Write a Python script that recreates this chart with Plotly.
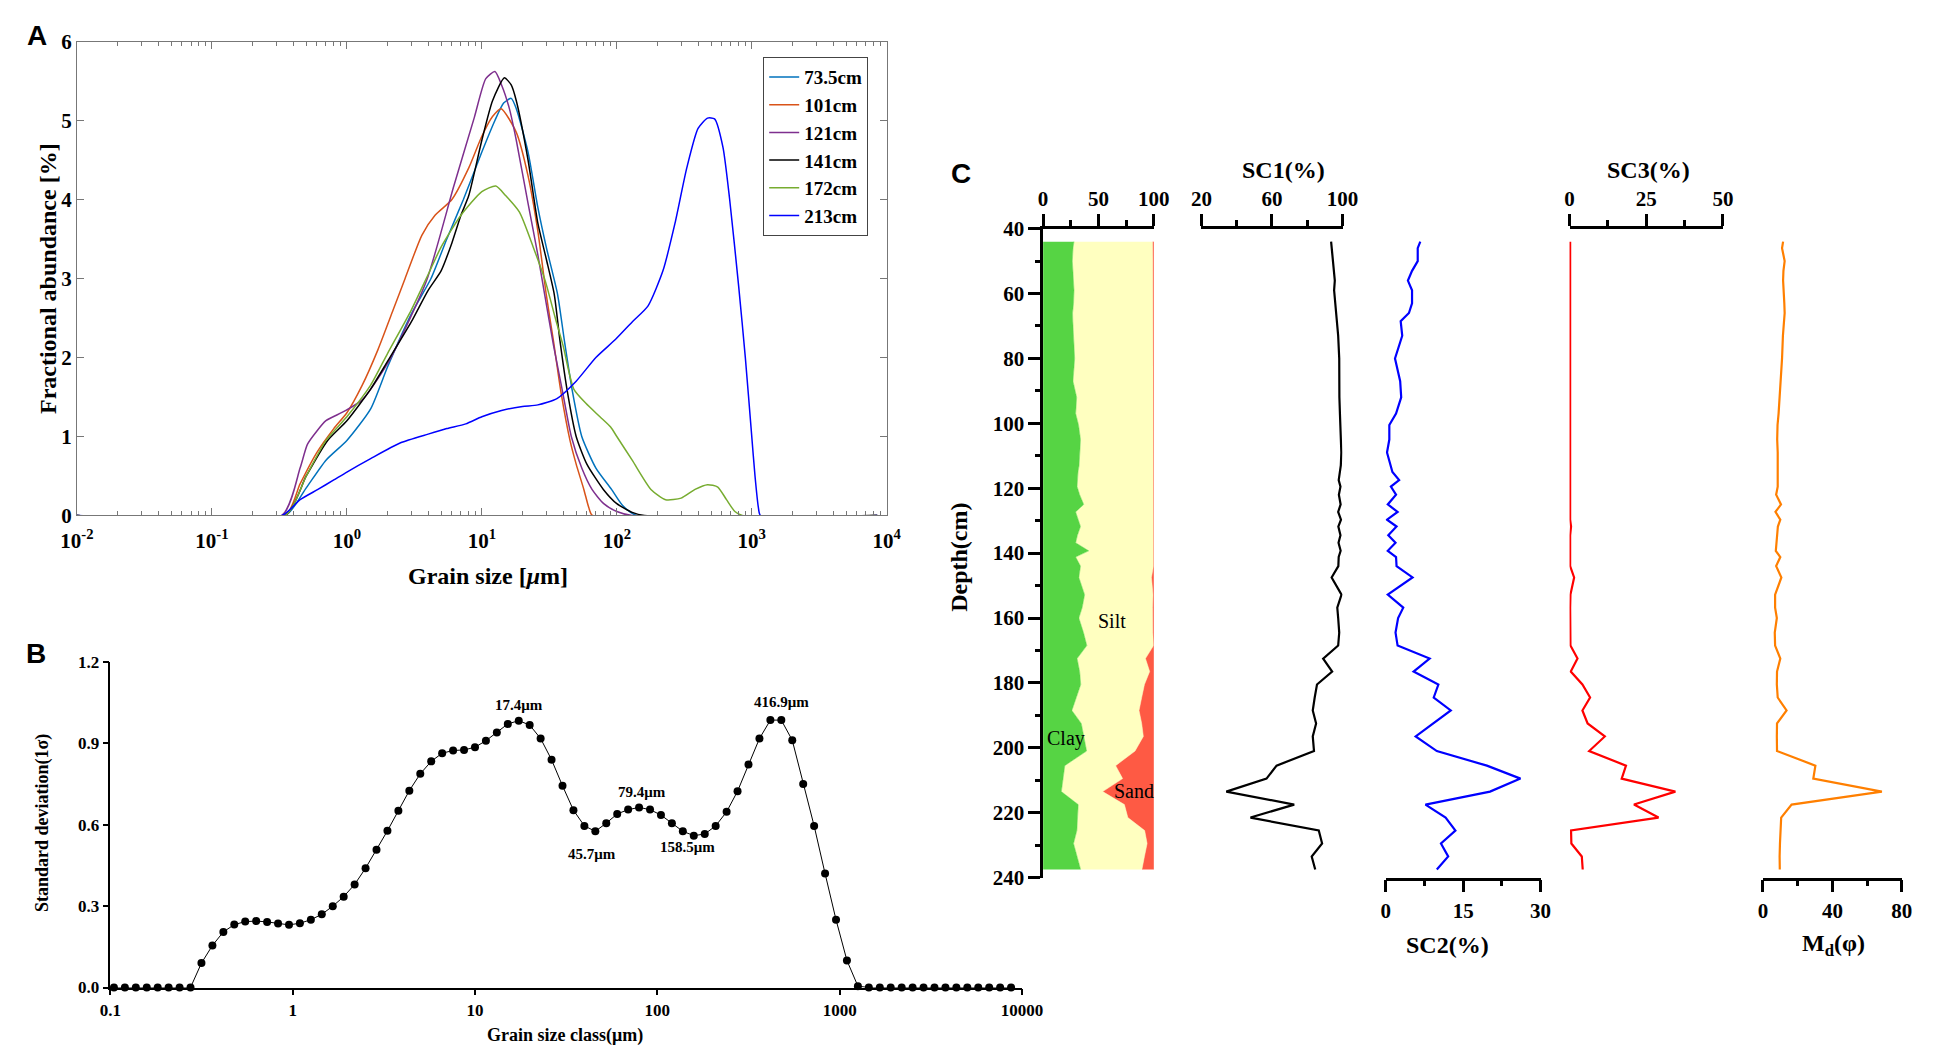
import plotly.graph_objects as go

W, H = 1933, 1057
SERIF = "Liberation Serif"
SANS = "Liberation Sans"


def fx(x):
    return x / W


def fy(y):
    return 1 - y / H


# ---------------- panel A: grain size distributions ----------------
size_735 = [0.01, 0.35, 0.5, 0.7, 1.0, 1.5, 2, 3, 4.2, 5.5, 7.3, 10, 12.5, 14.5, 16.5, 18, 22,
            26, 30, 36.4, 41, 46.9, 55, 70, 91.4, 110, 140, 8500]
frac_735 = [0, 0, 0.35, 0.7, 0.95, 1.35, 1.88, 2.55, 3.0, 3.5, 4.0, 4.6, 5.0, 5.22, 5.28, 5.15, 4.6,
            3.9, 3.4, 2.8, 2.2, 1.57, 1.0, 0.6, 0.33, 0.13, 0, 0]

size_101 = [0.01, 0.35, 0.45, 0.6, 0.8, 1.0, 1.3, 1.7, 2.2, 2.7, 3.6, 4.5, 6, 8, 10, 12, 13.9, 18,
            22, 26, 30, 34, 38.5, 45, 50, 57, 62, 66, 8500]
frac_101 = [0, 0, 0.4, 0.8, 1.1, 1.3, 1.65, 2.1, 2.6, 3.0, 3.55, 3.8, 4.0, 4.4, 4.8, 5.05, 5.15, 4.85,
            4.3, 3.6, 2.8, 2.2, 1.57, 0.95, 0.65, 0.33, 0.1, 0, 0]

size_121 = [0.01, 0.33, 0.45, 0.51, 0.6, 0.7, 0.96, 1.31, 2.09, 3.89, 6.2, 8.8, 10.7, 12.5, 14, 16,
            18, 22, 26, 29.2, 34, 39.6, 46, 55, 65.5, 80, 100, 130, 8500]
frac_121 = [0, 0, 0.6, 0.9, 1.07, 1.2, 1.32, 1.47, 1.98, 2.97, 4.17, 5.04, 5.53, 5.62, 5.45, 5.15,
            4.75, 3.95, 3.3, 2.8, 2.15, 1.57, 1.0, 0.6, 0.33, 0.15, 0.05, 0, 0]

size_141 = [0.01, 0.35, 0.5, 0.72, 1.0, 1.5, 2, 3, 4, 5, 6, 7, 8, 10, 12, 14.7, 16.5, 18, 22, 26,
            30, 34.4, 38, 43, 50, 60, 79.5, 100, 130, 160, 8500]
frac_141 = [0, 0, 0.5, 0.95, 1.2, 1.6, 1.95, 2.45, 2.85, 3.1, 3.45, 3.8, 4.05, 4.75, 5.25, 5.54, 5.45,
            5.25, 4.5, 3.7, 3.25, 2.8, 2.2, 1.57, 1.0, 0.65, 0.33, 0.15, 0.04, 0, 0]

size_172 = [0.01, 0.35, 0.5, 0.7, 1.0, 1.5, 2, 3, 4, 5, 7, 10, 12.7, 15, 19, 24, 29.5, 35, 40, 48,
            59, 75, 90, 100, 130, 179, 230, 300, 380, 470, 560, 650, 750, 850, 8500]
frac_172 = [0, 0, 0.5, 0.95, 1.25, 1.65, 2.05, 2.6, 3.05, 3.4, 3.8, 4.1, 4.17, 4.05, 3.84, 3.4, 2.97,
            2.5, 2.15, 1.6, 1.42, 1.25, 1.12, 1.0, 0.7, 0.33, 0.2, 0.22, 0.33, 0.39, 0.36, 0.2, 0.05,
            0, 0]

size_213 = [0.01, 0.33, 0.45, 0.61, 0.8, 1.0, 1.5, 2.5, 4, 5.5, 7.6, 10, 14, 20, 26, 36, 50, 70, 98,
            130, 170, 220, 270, 330, 400, 470, 530, 612, 686, 800, 896, 1000, 1057, 1120, 1160, 8500]
frac_213 = [0, 0, 0.2, 0.33, 0.45, 0.55, 0.72, 0.92, 1.03, 1.1, 1.16, 1.25, 1.33, 1.38, 1.40, 1.48,
            1.7, 2.0, 2.23, 2.45, 2.65, 3.1, 3.7, 4.4, 4.9, 5.03, 5.02, 4.66, 4.0, 2.9, 2.0, 1.0,
            0.5, 0.1, 0, 0]

samples_A = [
    ("73.5cm", size_735, frac_735, "#0072BD"),
    ("101cm", size_101, frac_101, "#D95319"),
    ("121cm", size_121, frac_121, "#7E2F8E"),
    ("141cm", size_141, frac_141, "#000000"),
    ("172cm", size_172, frac_172, "#77AC30"),
    ("213cm", size_213, frac_213, "#0000FF"),
]

# ---------------- panel B: standard deviation by grain size class ----------------
size_class = [0.1047, 0.1202, 0.1380, 0.1585, 0.1820, 0.2089, 0.2399, 0.2754, 0.3162, 0.3631,
              0.4169, 0.4786, 0.5495, 0.6310, 0.7244, 0.8318, 0.9550, 1.096, 1.259, 1.445, 1.660,
              1.905, 2.188, 2.512, 2.884, 3.311, 3.802, 4.365, 5.012, 5.754, 6.607, 7.586, 8.710,
              10.00, 11.48, 13.18, 15.14, 17.38, 19.95, 22.91, 26.30, 30.20, 34.67, 39.81, 45.71,
              52.48, 60.26, 69.18, 79.43, 91.20, 104.7, 120.2, 138.0, 158.5, 182.0, 208.9, 239.9,
              275.4, 316.2, 363.1, 416.9, 478.6, 549.5, 631.0, 724.4, 831.8, 955.0, 1096, 1259,
              1445, 1660, 1905, 2188, 2512, 2884, 3311, 3802, 4365, 5012, 5754, 6607, 7586, 8710]
std_dev = [0, 0, 0, 0, 0, 0, 0, 0, 0.09, 0.155, 0.205, 0.232, 0.243, 0.245, 0.242, 0.236, 0.231,
           0.237, 0.25, 0.27, 0.30, 0.335, 0.38, 0.44, 0.508, 0.578, 0.652, 0.726, 0.788, 0.834,
           0.864, 0.874, 0.876, 0.886, 0.91, 0.94, 0.972, 0.984, 0.968, 0.918, 0.84, 0.744, 0.654,
           0.596, 0.576, 0.606, 0.64, 0.656, 0.664, 0.656, 0.636, 0.606, 0.576, 0.56, 0.566, 0.596,
           0.648, 0.724, 0.822, 0.918, 0.986, 0.986, 0.912, 0.75, 0.596, 0.42, 0.25, 0.10, 0.005,
           0, 0, 0, 0, 0, 0, 0, 0, 0, 0, 0, 0, 0, 0]
# (label, x in log10, y) for the annotated modes
peak_labels = [("17.4μm", 1.24, 1.04), ("79.4μm", 1.917, 0.72), ("416.9μm", 2.68, 1.054),
               ("45.7μm", 1.644, 0.492), ("158.5μm", 2.164, 0.52)]

# ---------------- panel C: down-core profiles ----------------
depth = [44, 46, 50, 53, 56, 59, 63, 66, 68.5, 73, 80, 87, 92, 97, 100.5, 105, 109, 113, 115, 117.5,
         119.5, 122, 125, 127.3, 129.7, 131.8, 134.5, 136.8, 139.3, 141.2, 144, 147.5, 152.8,
         156.8, 160, 164.5, 168.5, 172.5, 176.5, 180.5, 184.5, 188.5, 192.5, 196.5, 201, 205.5,
         209.5, 213.5, 217.5, 221.5, 225.5, 229.5, 233.5, 237.5]
clay = [27.9, 27.0, 26.4, 27.0, 27.5, 27.9, 27.5, 26.6, 26.8, 27.5, 28.5, 27.0, 30.3, 29.4, 32.0,
        33.8, 33.2, 32.5, 31.5, 30.7, 30.7, 33.0, 36.7, 29.4, 32.0, 33.8, 31.0, 29.4, 41.2, 29.4,
        33.8, 32.3, 37.5, 35.3, 32.3, 36.5, 39.5, 30.7, 33.0, 34.0, 30.0, 26.0, 34.5, 37.0, 39.3,
        19.6, 18.0, 16.5, 31.7, 31.2, 30.5, 27.5, 30.5, 33.9]
sand = [1.2, 1.0, 1.0, 1.0, 1.0, 1.0, 1.0, 1.0, 1.0, 1.0, 1.0, 1.0, 1.0, 1.0, 0.4, 0.4, 0.4, 0.4,
        0.4, 0.4, 0.4, 0.4, 0.4, 0.4, 0.4, 0.4, 0.4, 0.4, 0.4, 0.4, 0.4, 2.2, 0.8, 1.2, 1.3, 1.0,
        0.3, 7.6, 3.8, 8.5, 11.0, 13.4, 11.0, 9.5, 17.0, 34.5, 28.2, 46.2, 26.6, 23.5, 8.3, 6.1,
        8.5, 10.8]
sc1 = [93.5, 93.8, 94.3, 95.0, 95.6, 95.2, 95.9, 96.5, 96.9, 97.5, 98.1, 98.0, 98.2, 98.5, 98.7,
       98.9, 99.3, 99.0, 98.6, 97.8, 98.8, 97.9, 98.9, 97.5, 99.1, 97.6, 98.8, 97.7, 98.9, 97.8,
       97.6, 93.8, 99.4, 97.0, 97.5, 98.1, 97.5, 89.0, 94.1, 85.5, 84.2, 83.1, 85.0, 83.1, 83.8,
       62.6, 56.9, 34.1, 72.6, 47.8, 86.5, 88.4, 82.5, 84.5]
sc2 = [6.7, 6.2, 6.2, 5.1, 4.3, 5.1, 5.1, 4.5, 2.9, 3.2, 1.8, 2.8, 3.0, 2.0, 0.7, 0.7, 0.25, 1.0,
       1.3, 2.6, 1.0, 2.0, 0.4, 2.3, 0.25, 2.1, 0.5, 1.9, 0.4, 2.0, 2.1, 5.2, 0.4, 3.4, 2.4, 1.9,
       2.3, 8.5, 5.4, 10.2, 9.3, 12.6, 9.2, 5.8, 9.9, 19.6, 26.1, 20.2, 7.7, 11.6, 13.5, 10.7,
       12.1, 9.9]
sc3 = [0.2, 0.2, 0.2, 0.2, 0.2, 0.2, 0.2, 0.2, 0.2, 0.2, 0.2, 0.2, 0.2, 0.2, 0.2, 0.2, 0.2, 0.2,
       0.2, 0.2, 0.2, 0.2, 0.2, 0.2, 0.2, 0.5, 0.2, 0.2, 0.2, 0.2, 0.2, 1.5, 0.3, 0.2, 0.2, 0.2,
       0.3, 2.6, 0.4, 4.2, 6.7, 4.2, 5.9, 11.5, 6.4, 18.4, 17.0, 34.5, 21.0, 29.0, 0.5, 0.6, 4.0,
       4.3]
md = [11.6, 11.0, 12.5, 11.8, 11.6, 12.0, 12.3, 12.5, 12.0, 11.5, 11.0, 10.3, 9.8, 9.0, 8.4, 8.2,
      8.5, 8.6, 8.8, 8.8, 8.5, 7.6, 10.4, 7.2, 10.0, 8.6, 8.2, 8.0, 7.4, 10.0, 7.6, 10.6, 7.0, 7.0,
      8.0, 6.8, 7.0, 10.0, 8.1, 8.0, 8.5, 13.6, 8.1, 8.0, 8.1, 30.2, 29.0, 68.5, 16.5, 10.5, 10.0,
      9.8, 9.6, 9.7]

fig = go.Figure()

for name, xs, ys, col in samples_A:
    fig.add_trace(go.Scatter(x=xs, y=ys, mode="lines", name=name, xaxis="x", yaxis="y",
                             line=dict(color=col, width=1.5, shape="spline", smoothing=0.6)))

fig.add_trace(go.Scatter(x=size_class, y=std_dev, mode="lines+markers", xaxis="x2", yaxis="y2",
                         showlegend=False, cliponaxis=False,
                         line=dict(color="black", width=1),
                         marker=dict(color="black", size=8)))

# clay / silt / sand stacked column
silt_edge = [100 - s for s in sand]
fig.add_trace(go.Scatter(x=clay, y=depth, xaxis="x3", yaxis="y3", mode="lines", fill="tozerox",
                         fillcolor="#56d444", line=dict(color="#56d444", width=0.5),
                         showlegend=False))
fig.add_trace(go.Scatter(x=silt_edge, y=depth, xaxis="x3", yaxis="y3", mode="lines",
                         fill="tonextx", fillcolor="#ffffc0",
                         line=dict(color="#ffffc0", width=0.5), showlegend=False))
fig.add_trace(go.Scatter(x=[100] * len(depth), y=depth, xaxis="x3", yaxis="y3", mode="lines",
                         fill="tonextx", fillcolor="#fe5a44",
                         line=dict(color="#fe5a44", width=0.5), showlegend=False))

for vals, ax, col in [(sc1, "x4", "black"), (sc2, "x5", "#0000FF"),
                      (sc3, "x6", "#FF0000"), (md, "x7", "#FF7F00")]:
    fig.add_trace(go.Scatter(x=vals, y=depth, xaxis=ax, yaxis="y3", mode="lines",
                             showlegend=False, line=dict(color=col, width=2.2)))

GRAY = "#777777"
tick_bold = lambda s: dict(family=SERIF, size=s, color="black", weight="bold")

axis_A = dict(showline=True, linecolor=GRAY, linewidth=1.2, mirror="ticks", ticks="inside",
              tickcolor=GRAY, ticklen=7, tickwidth=1, showgrid=False, zeroline=False,
              tickfont=tick_bold(21))
axis_B = dict(showline=True, linecolor="black", linewidth=1.5, ticks="outside",
              tickcolor="black", ticklen=6, tickwidth=1.5, showgrid=False, zeroline=False,
              tickfont=tick_bold(17))
axis_C = dict(showline=True, linecolor="black", linewidth=2.5, ticks="outside",
              tickcolor="black", ticklen=12, tickwidth=2.5, showgrid=False, zeroline=False,
              tickfont=tick_bold(21), anchor="y3")
minor_C = dict(ticks="outside", ticklen=6, tickwidth=2.5, tickcolor="black")

fig.update_layout(
    width=W, height=H, margin=dict(l=0, r=0, t=0, b=0),
    paper_bgcolor="white", plot_bgcolor="white",
    xaxis=dict(axis_A, type="log", range=[-2, 4], domain=[fx(53), fx(879)], anchor="y",
               tickvals=[0.01, 0.1, 1, 10, 100, 1000, 10000],
               ticktext=["10<sup>-2</sup>", "10<sup>-1</sup>", "10<sup>0</sup>", "10<sup>1</sup>",
                         "10<sup>2</sup>", "10<sup>3</sup>", "10<sup>4</sup>"],
               ticklabelstandoff=6,
               minor=dict(ticks="inside", ticklen=4, tickcolor=GRAY, dtick="D1")),
    yaxis=dict(axis_A, range=[0, 6], dtick=1, domain=[fy(507), fy(22)], anchor="x"),
    xaxis2=dict(axis_B, type="log", range=[-1, 4], domain=[fx(87), fx(1017)], anchor="y2",
                tickvals=[0.1, 1, 10, 100, 1000, 10000],
                ticktext=["0.1", "1", "10", "100", "1000", "10000"]),
    yaxis2=dict(axis_B, range=[0, 1.2], domain=[fy(990), fy(657)], anchor="x2",
                tickvals=[0, 0.3, 0.6, 0.9, 1.2], ticktext=["0.0", "0.3", "0.6", "0.9", "1.2"]),
    yaxis3=dict(axis_C, range=[240, 40], domain=[fy(877.5), fy(213.5)], anchor="x3",
                tick0=40, dtick=20, minor=dict(minor_C, dtick=10, ticklen=5)),
    xaxis3=dict(axis_C, side="top", range=[0, 100], domain=[fx(1038.5), fx(1151.5)],
                tickvals=[0, 50, 100], minor=dict(minor_C, tickvals=[25, 75])),
    xaxis4=dict(axis_C, side="top", range=[20, 100], domain=[fx(1200), fx(1344)],
                tickvals=[20, 60, 100], minor=dict(minor_C, tickvals=[40, 80])),
    xaxis5=dict(axis_C, side="bottom", range=[0, 30], domain=[fx(1388), fx(1546)],
                tickvals=[0, 15, 30], minor=dict(minor_C, tickvals=[7.5, 22.5])),
    xaxis6=dict(axis_C, side="top", range=[0, 50], domain=[fx(1575.5), fx(1732)],
                tickvals=[0, 25, 50], minor=dict(minor_C, tickvals=[12.5, 37.5])),
    xaxis7=dict(axis_C, side="bottom", range=[0, 80], domain=[fx(1772.8), fx(1914.5)],
                tickvals=[0, 40, 80], minor=dict(minor_C, tickvals=[20, 60])),
    legend=dict(x=fx(753), y=fy(38), xanchor="left", yanchor="top", bgcolor="white",
                bordercolor="#444444", borderwidth=1, tracegroupgap=0, traceorder="normal",
                font=dict(family=SERIF, size=19, color="black", weight="bold")),
)


def paper_text(text, x, y, size, angle=0, family=SERIF, bold=True):
    fig.add_annotation(text=text, x=fx(x), y=fy(y), xref="paper", yref="paper",
                       showarrow=False, textangle=angle, xanchor="center", yanchor="middle",
                       font=dict(family=family, size=size, color="black",
                                 weight="bold" if bold else "normal"))


paper_text("A", 12, 16, 28, family=SANS)
paper_text("B", 11, 648, 28, family=SANS)
paper_text("C", 955, 157, 28, family=SANS)

paper_text("Fractional abundance [%]", 24, 264.5, 24, angle=-90)
paper_text("Grain size [<i>μ</i>m]", 472, 569, 24)
paper_text("Standard deviation(1σ)", 18, 822, 18, angle=-90)
paper_text("Grain size class(μm)", 551, 1039, 18)
paper_text("Depth(cm)", 952, 550, 24, angle=-90)
paper_text("SC1(%)", 1284, 153, 24)
paper_text("SC3(%)", 1656, 153, 24)
paper_text("SC2(%)", 1451, 947, 24)
paper_text("M<sub>d</sub>(φ)", 1845, 947, 24)

for txt, lx, ly in peak_labels:
    fig.add_annotation(text=txt, x=lx, y=ly, xref="x2", yref="y2", showarrow=False,
                       font=dict(family=SERIF, size=15, color="black", weight="bold"))

for txt, cx, cy in [("Clay", 21, 197), ("Silt", 62, 161), ("Sand", 82, 213.4)]:
    fig.add_annotation(text=txt, x=cx, y=cy, xref="x3", yref="y3", showarrow=False,
                       font=dict(family=SERIF, size=20, color="black"))

fig.write_html("out.html")
